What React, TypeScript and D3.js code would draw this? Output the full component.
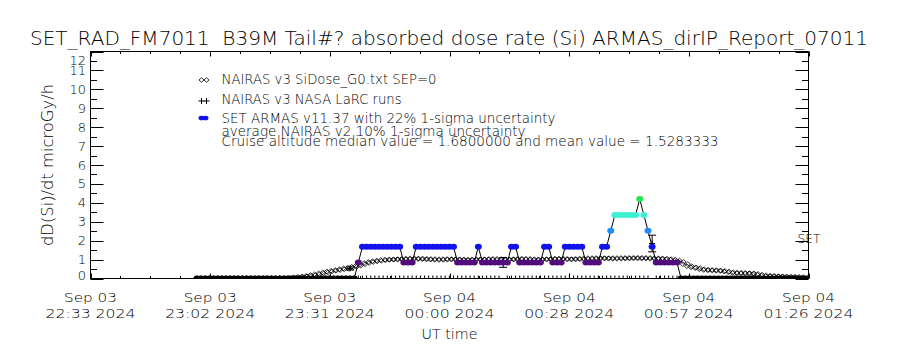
import * as d3 from "d3";

// ---- data ----
const titleText = "SET_RAD_FM7011  B39M Tail#? absorbed dose rate (Si) ARMAS_dirIP_Report_07011";
const yTitle = "dD(Si)/dt microGy/h";
const xTitle = "UT time";

const timeStart = Date.UTC(2024, 8, 3, 22, 33, 17);
const timeEnd = Date.UTC(2024, 8, 4, 1, 26, 47);
const xTickCount = 7;

// one sample per minute from 22:59 UT
const seriesStart = Date.UTC(2024, 8, 3, 22, 59, 0);
const stepMs = 60000;

// SET ARMAS dose rate (quantised in 0.84 steps)
const setValues = [
  0, 0, 0, 0, 0, 0, 0, 0, 0, 0, 0, 0, 0, 0, 0, 0, 0, 0, 0, 0,
  0, 0, 0, 0, 0, 0, 0, 0, 0, 0, 0, 0, 0, 0, 0, 0, 0, 0, 0,
  0.84,
  1.68, 1.68, 1.68, 1.68, 1.68, 1.68, 1.68, 1.68, 1.68, 1.68,
  0.84, 0.84, 0.84,
  1.68, 1.68, 1.68, 1.68, 1.68, 1.68, 1.68, 1.68, 1.68, 1.68,
  0.84, 0.84, 0.84, 0.84, 0.84,
  1.68,
  0.84, 0.84, 0.84, 0.84, 0.84, 0.84, 0.84,
  1.68, 1.68,
  0.84, 0.84, 0.84, 0.84, 0.84, 0.84,
  1.68, 1.68,
  0.84, 0.84, 0.84,
  1.68, 1.68, 1.68, 1.68, 1.68,
  0.84, 0.84, 0.84, 0.84,
  1.68, 1.68,
  2.52,
  3.36, 3.36, 3.36, 3.36, 3.36, 3.36,
  4.2,
  3.36,
  2.52,
  1.68,
  0.84, 0.84, 0.84, 0.84, 0.84, 0.84,
  0, 0, 0, 0, 0, 0, 0, 0, 0, 0, 0, 0, 0, 0, 0, 0, 0, 0, 0, 0,
  0, 0, 0, 0, 0, 0, 0, 0, 0, 0, 0,
];
const setLevels = [0, 0.84, 1.68, 2.52, 3.36, 4.2];
const setLevelColors = ["#000000", "#520c7c", "#1212ee", "#1e8cff", "#3cf0d4", "#1ee650"];

// NAIRAS v3 SiDose_G0 (starts at sample 22)
const nairasOffset = 22;
const nairasValues = [
  0.0, 0.02, 0.05, 0.08, 0.11, 0.14, 0.18, 0.22, 0.27, 0.32, 0.37, 0.41, 0.45,
  0.49, 0.53, 0.57, 0.62, 0.68, 0.75, 0.82, 0.87, 0.91, 0.94, 0.97, 0.99,
  1.0, 1.01, 1.02, 1.03, 1.04, 1.05, 1.05, 1.04, 1.03, 1.02,
  1.01, 1.0, 1.0, 1.01, 1.02, 1.02, 1.01, 1.0, 0.99, 0.99,
  1.0, 1.0, 1.01, 1.02, 1.02, 1.02, 1.01, 1.0, 1.0, 1.01,
  1.02, 1.03, 1.03, 1.02, 1.01, 1.0, 1.0, 1.01, 1.02, 1.03,
  1.04, 1.04, 1.03, 1.02, 1.02, 1.03, 1.04, 1.05, 1.06, 1.06,
  1.07, 1.07, 1.07, 1.06, 1.06, 1.06, 1.07, 1.07, 1.08, 1.08,
  1.08, 1.07, 1.07, 1.06, 1.06, 1.05, 1.04, 1.02,
  1.0, 0.95, 0.88, 0.76, 0.65, 0.59, 0.55, 0.49, 0.46, 0.44, 0.43, 0.42,
  0.4, 0.37, 0.33, 0.3, 0.29, 0.28, 0.28, 0.27, 0.24, 0.2, 0.16, 0.14,
  0.13, 0.12, 0.11, 0.1, 0.09, 0.08, 0.07, 0.06, 0.05,
];

// NAIRAS v3 NASA LaRC runs
const larcValues = [
  0, 0, 0, 0, 0, 0, 0, 0, 0, 0, 0, 0, 0, 0, 0, 0, 0, 0, 0, 0,
  0, 0, 0, 0, 0, 0, 0, 0, 0, 0, 0, 0, 0, 0, 0, 0, 0, 0.53, 0, 0,
  0, 0, 0, 0, 0, 0, 0, 0, 0, 0, 0, 0, 0, 0, 0, 0, 0, 0, 0, 0,
  0, 0, 0, 0, 0, 0, 0, 0, 0, 0, 0, 0, 0, 0, 0.85, 0, 0, 0, 0, 0,
  0, 0, 0, 0, 0, 0, 0, 0, 0, 0, 0, 0, 0, 0, 0, 0, 0, 0, 0, 0,
  0, 0, 0, 0, 0, 0, 0, 0, 0, 0, 1.85, 0, 0, 0, 0, 0, 0,
];
const larcErrIndex = [37, 74, 110];
const larcErrValues = [0.08, 0.26, 0.44];

const legendLabels = [
  "NAIRAS v3 SiDose_G0.txt SEP=0",
  "NAIRAS v3 NASA LaRC runs",
  "SET ARMAS v11.37 with 22% 1-sigma uncertainty",
  "average NAIRAS v2 10% 1-sigma uncertainty",
  "Cruise altitude median value = 1.6800000 and mean value = 1.5283333",
];
const legendWidths = [215, 180, 334, 304, 497];

const FONT = "'DejaVu Sans', sans-serif";
const infPath = "M-5,0L-2.5,-2.3L0,0L-2.5,2.3ZM0,0L2.5,-2.3L5,0L2.5,2.3Z";
const plusPath = "M-3,0H3M0,-3V3";

export default function App() {
  const left = 90.5, right = 808.5, top = 51.5, bottom = 278.5;

  const x = d3.scaleUtc().domain([new Date(timeStart), new Date(timeEnd)]).range([left, right]);
  const y = d3.scaleLinear().domain([0, 12]).range([bottom, top]);
  const tAt = (i: number) => new Date(seriesStart + i * stepMs);

  const colorOf = d3.scaleOrdinal<number, string>().domain(setLevels).range(setLevelColors);

  const setPts = setValues.map((v, i) => ({ t: tAt(i), v }));
  const nairasPts = nairasValues.map((v, i) => ({ t: tAt(i + nairasOffset), v }));
  const larcPts = larcValues.map((v, i) => ({ t: tAt(i), v }));

  const line = d3
    .line<{ t: Date; v: number }>()
    .x((d) => x(d.t))
    .y((d) => y(d.v));

  const xMajor = d3.range(xTickCount).map(
    (k) => new Date(timeStart + (k * (timeEnd - timeStart)) / (xTickCount - 1))
  );
  const xMinor = d3
    .range((xTickCount - 1) * 4 + 1)
    .filter((k) => k % 4 !== 0)
    .map((k) => new Date(timeStart + (k * (timeEnd - timeStart)) / ((xTickCount - 1) * 4)));
  const fmtDay = d3.utcFormat("%b %d");
  const fmtTime = d3.utcFormat("%H:%M %Y");

  const yMajor = y.ticks(12);
  const yMinor = d3.range(0.5, 12, 1);

  const legendY = [84, 104, 123, 136, 146];
  const px = (v: number) => Math.round(v) + 0.5;

  return (
    <div style={{ position: "fixed", left: 0, top: 0, background: "#fff" }}>
      <svg width={900} height={350} style={{ display: "block", background: "#fff" }} fontFamily={FONT} fontWeight={300}>
        <defs>
          <clipPath id="plotClip">
            <rect x={left} y={top} width={right - left} height={bottom - top} />
          </clipPath>
        </defs>

        {/* title */}
        <text x={30} y={45} fontSize={20} textLength={838} lengthAdjust="spacingAndGlyphs" style={{ whiteSpace: "pre" }}>
          {titleText}
        </text>

        {/* data */}
        <g clipPath="url(#plotClip)">
          {nairasPts.map((d, i) => (
            <path key={"n" + i} d={infPath} transform={`translate(${x(d.t)},${y(d.v)})`} fill="none" stroke="#000" strokeWidth={0.8} />
          ))}
          <path d={line(setPts) ?? ""} fill="none" stroke="#000" strokeWidth={1} />
          {larcPts.map((d, i) => (
            <path key={"l" + i} d={plusPath} transform={`translate(${x(d.t)},${y(d.v)})`} stroke="#000" strokeWidth={1} />
          ))}
          {larcErrIndex.map((idx, k) => {
            const cx = x(tAt(idx));
            const v = larcValues[idx];
            const e = larcErrValues[k];
            return (
              <g key={"e" + k} stroke="#000" strokeWidth={1}>
                <line x1={cx} x2={cx} y1={y(v - e)} y2={y(v + e)} />
                <line x1={cx - 4} x2={cx + 4} y1={y(v - e)} y2={y(v - e)} />
                <line x1={cx - 4} x2={cx + 4} y1={y(v + e)} y2={y(v + e)} />
              </g>
            );
          })}
          {setPts.map((d, i) => (
            <ellipse key={"s" + i} cx={x(d.t)} cy={y(d.v)} rx={3.5} ry={3} fill={colorOf(d.v)} />
          ))}
        </g>

        {/* frame */}
        <rect x={left} y={top} width={right - left} height={bottom - top} fill="none" stroke="#000" strokeWidth={1} />

        {/* ticks */}
        <g stroke="#000" strokeWidth={1}>
          {yMajor.map((v) => (
            <g key={"ym" + v}>
              <line x1={left} x2={left + 13} y1={px(y(v))} y2={px(y(v))} />
              <line x1={right - 13} x2={right} y1={px(y(v))} y2={px(y(v))} />
            </g>
          ))}
          {yMinor.map((v) => (
            <g key={"yn" + v}>
              <line x1={left} x2={left + 6.5} y1={px(y(v))} y2={px(y(v))} />
              <line x1={right - 6.5} x2={right} y1={px(y(v))} y2={px(y(v))} />
            </g>
          ))}
          {xMajor.map((d, k) => (
            <g key={"xm" + k}>
              <line x1={px(x(d))} x2={px(x(d))} y1={bottom} y2={bottom - 5} />
              <line x1={px(x(d))} x2={px(x(d))} y1={top} y2={top + 5} />
            </g>
          ))}
          {xMinor.map((d, k) => (
            <g key={"xn" + k}>
              <line x1={px(x(d))} x2={px(x(d))} y1={bottom} y2={bottom - 2.5} />
              <line x1={px(x(d))} x2={px(x(d))} y1={top} y2={top + 2.5} />
            </g>
          ))}
        </g>

        {/* y tick labels */}
        {yMajor.map((v) => (
          <text
            key={"yl" + v}
            x={86}
            y={Math.min(Math.max(y(v) + 4.5, top + 13.5), bottom + 1)}
            fontSize={13}
            textAnchor="end"
          >
            {v}
          </text>
        ))}

        {/* x tick labels */}
        {xMajor.map((d, k) => (
          <g key={"xl" + k}>
            <text x={x(d)} y={302} fontSize={13} textAnchor="middle" textLength={53} lengthAdjust="spacingAndGlyphs">
              {fmtDay(d)}
            </text>
            <text x={x(d)} y={318} fontSize={13} textAnchor="middle" textLength={90} lengthAdjust="spacingAndGlyphs">
              {fmtTime(d)}
            </text>
          </g>
        ))}

        {/* axis titles */}
        <text x={(left + right) / 2} y={339} fontSize={14} textAnchor="middle" textLength={56} lengthAdjust="spacingAndGlyphs">
          {xTitle}
        </text>
        <text
          transform={`translate(53,${(top + bottom) / 2}) rotate(-90)`}
          fontSize={15}
          textAnchor="middle"
          textLength={162}
          lengthAdjust="spacingAndGlyphs"
        >
          {yTitle}
        </text>

        {/* SET label at right */}
        <text x={right - 11} y={y(1.9)} fontSize={13} textLength={23} lengthAdjust="spacingAndGlyphs">
          SET
        </text>

        {/* legend */}
        <g>
          <path d={infPath} transform={`translate(204,${legendY[0] - 4})`} fill="none" stroke="#000" strokeWidth={0.8} />
          <path d={plusPath} transform={`translate(201.5,${legendY[1] - 3})`} stroke="#000" strokeWidth={1} />
          <path d={plusPath} transform={`translate(206.5,${legendY[1] - 3})`} stroke="#000" strokeWidth={1} />
          <ellipse cx={201.5} cy={legendY[2] - 5} rx={3} ry={2.3} fill={setLevelColors[2]} />
          <ellipse cx={205.5} cy={legendY[2] - 5} rx={3} ry={2.3} fill={setLevelColors[2]} />
          {legendLabels.map((s, k) => (
            <text key={"lg" + k} x={221.5} y={legendY[k]} fontSize={13.5} textLength={legendWidths[k]} lengthAdjust="spacingAndGlyphs" style={{ whiteSpace: "pre" }}>
              {s}
            </text>
          ))}
        </g>
      </svg>
    </div>
  );
}
